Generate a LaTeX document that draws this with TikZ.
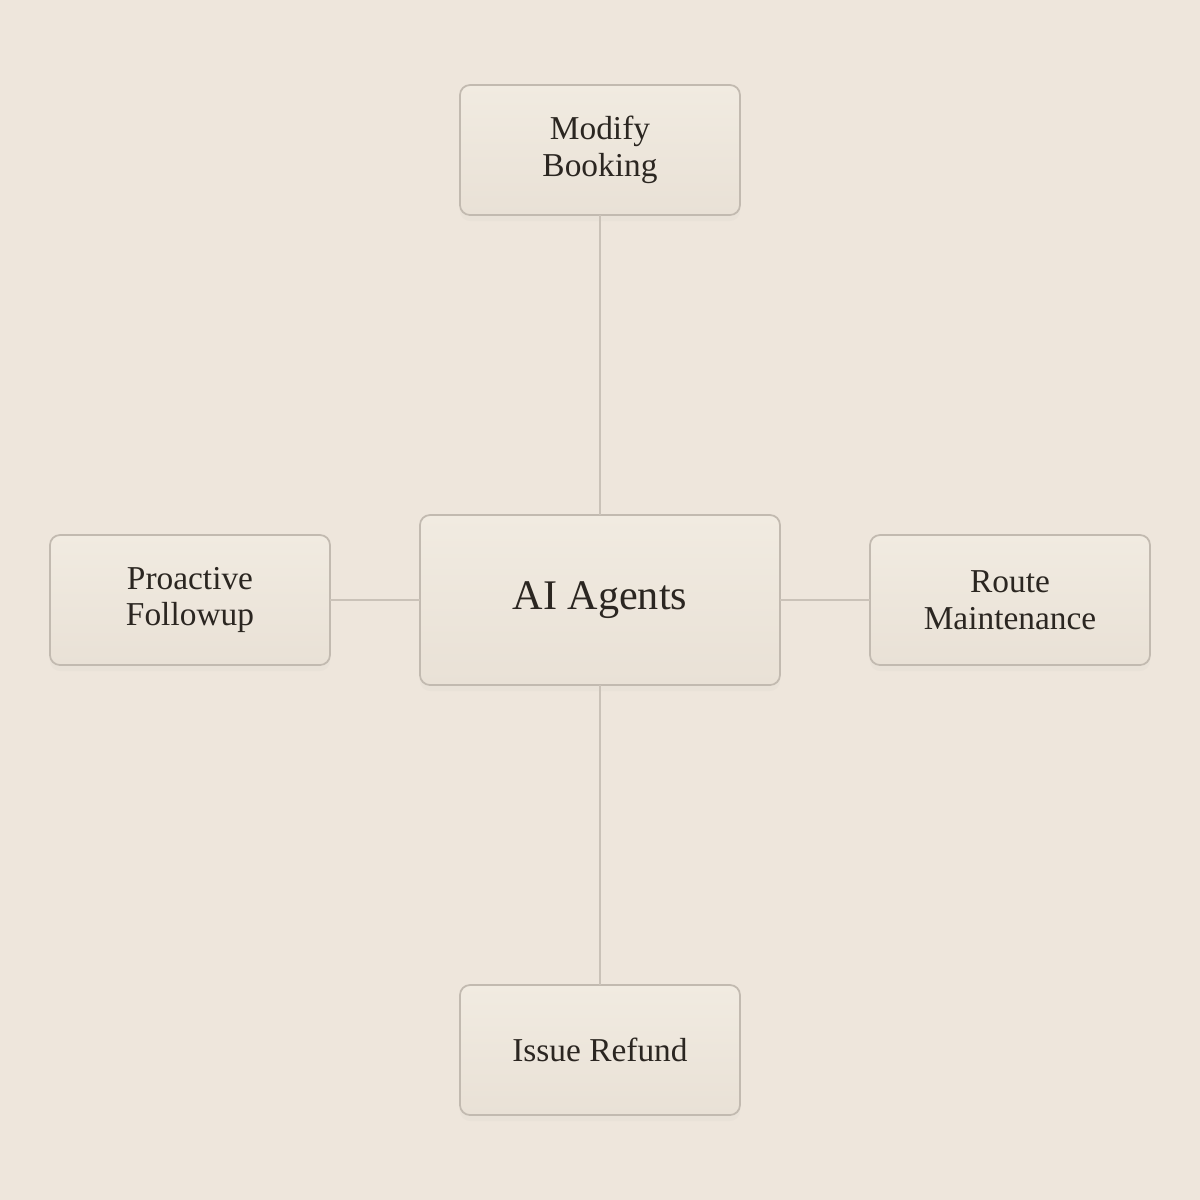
\documentclass[tikz,border=0pt]{standalone}
\usepackage{fontspec}
\setmainfont{Liberation Serif}
\usetikzlibrary{positioning}
\usetikzlibrary{shadows}
\definecolor{paper}{HTML}{EEE6DC}
\definecolor{boxtop}{HTML}{F1EBE1}
\definecolor{boxbot}{HTML}{E9E1D6}
\definecolor{boxline}{HTML}{C2BAB0}
\definecolor{wire}{HTML}{CAC2B8}
\definecolor{ink}{HTML}{2B2621}
\newcommand{\taskwidth}{28mm}
\newcommand{\taskheight}{13mm}
\newcommand{\hubwidth}{36mm}
\newcommand{\hubheight}{17mm}

\begin{document}
\begin{tikzpicture}[node distance=0mm, outer sep=0pt]
\tikzstyle{task}=[
    draw=boxline,
    line width=0.5pt,
    rectangle,
    rounded corners=1mm,
    minimum height=\taskheight,
    minimum width=\taskwidth,
    top color=boxtop,
    bottom color=boxbot,
    drop shadow={opacity=0.04, shadow xshift=0mm, shadow yshift=-0.6mm},
    text=ink,
    align=center,
    font=\fontsize{9.5}{10.5}\selectfont]
\tikzstyle{hub}=[
    task,
    minimum height=\hubheight,
    minimum width=\hubwidth,
    font=\fontsize{12}{14}\selectfont]
\tikzstyle{wire}=[draw=wire, line width=0.5pt]
\fill[paper] (-6,-6) rectangle (6,6);
\useasboundingbox (-6,-6) rectangle (6,6);
\node[hub] (agents) at(0mm,0mm) {AI Agents};
\node[task] (modify) [above = 30mm of agents] {Modify\\Booking};
\node[task] (refund) [below = 30mm of agents] {Issue Refund};
\node[task] (followup) [left = 9mm of agents] {Proactive\\Followup};
\node[task] (route) [right = 9mm of agents] {Route\\Maintenance};

\draw[wire] (agents) -- (modify);
\draw[wire] (agents) -- (refund);
\draw[wire] (agents) -- (followup);
\draw[wire] (agents) -- (route);
\end{tikzpicture}
\end{document}
